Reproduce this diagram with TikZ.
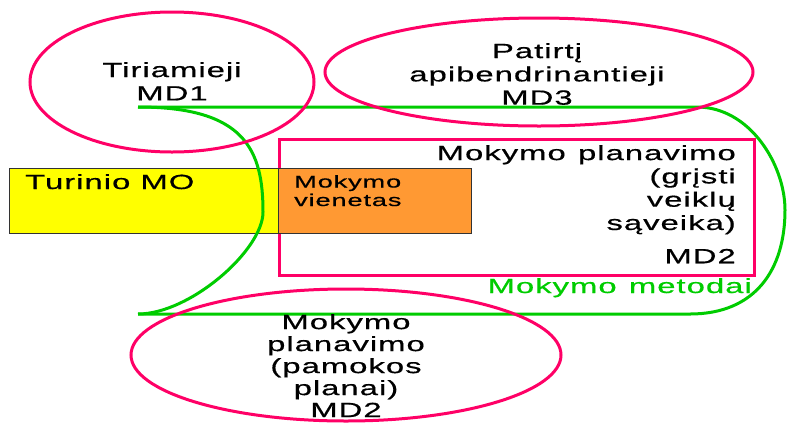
\documentclass[tikz,border=0pt]{standalone}
\usepackage{fontspec}
\newfontfamily\wf[FakeStretch=1.6,LetterSpace=5,FakeBold=0.6]{Liberation Sans}
\usetikzlibrary{shapes.geometric}
\definecolor{pk}{HTML}{FF0066}
\definecolor{gr}{HTML}{00CC00}
\definecolor{yl}{HTML}{FFFF00}
\definecolor{og}{HTML}{FF9933}
\tikzset{
  ell/.style={ellipse, draw=pk, line width=3pt, inner sep=0pt},
  txt/.style={inner sep=0pt, font=\wf\fontsize{20.5}{23.3}\selectfont},
  smalltxt/.style={inner sep=0pt, font=\wf\fontsize{17}{18.5}\selectfont},
  box/.style={draw=black!80, line width=1pt, inner sep=0pt, anchor=north west},
  grline/.style={draw=gr, line width=3pt},
}
\begin{document}
\begin{tikzpicture}[x=1pt,y=-1pt]
\useasboundingbox (0,0) rectangle (787,424);
% pink rectangle
\node[draw=pk, line width=3pt, minimum width=475, minimum height=136, anchor=north west, inner sep=0pt] (rect) at (278,138) {};
% boxes
\node[box, fill=yl, minimum width=269, minimum height=65] (ybox) at (9,168) {};
\node[box, fill=og, minimum width=193, minimum height=65] (obox) at (278,168) {};
% green shape
\coordinate (gtl) at (138,107);
\coordinate (gtr) at (697,107);
\coordinate (gbl) at (138,314);
\coordinate (gbr) at (690,314);
\coordinate (gmid) at (263,212);
\coordinate (gright) at (785,210);
\draw[grline] (gtl) -- (gtr) .. controls (750,107) and (785,165) .. (gright)
   .. controls (785,270) and (755,314) .. (gbr) -- (gbl);
\draw[grline] (gtl) .. controls (245,107) and (263,150) .. (gmid)
   .. controls (263,250) and (190,314) .. (gbl);
% ellipses
\node[ell, minimum width=284, minimum height=140] (e1) at (172,82) {};
\node[ell, minimum width=428, minimum height=108] (e2) at (539,72) {};
\node[ell, minimum width=430, minimum height=132] (e3) at (346,355) {};
% texts
\node[txt, anchor=north, align=center] (t1) at (172,62) {Tiriamieji\\MD1};
\node[txt, anchor=north, align=center] (t2) at (537,43) {Patirtį\\apibendrinantieji\\MD3};
\node[txt, anchor=north east, align=right] (t3) at (736,145) {Mokymo\hspace{0.6em}planavimo\\(grįsti\\veiklų\\sąveika)\\[10pt]MD2};
\node[txt, anchor=base east, text=gr] (t4) at (752,293) {Mokymo\hspace{0.6em}metodai};
\node[txt, anchor=base west] (t5) at (25,189) {Turinio MO};
\node[smalltxt, anchor=north west, align=left] (t6) at (294,175) {Mokymo\\vienetas};
\node[txt, anchor=north, align=center, font=\wf\fontsize{20.5}{22}\selectfont] (t7) at (346,314) {Mokymo\\planavimo\\(pamokos\\planai)\\MD2};
\end{tikzpicture}
\end{document}
